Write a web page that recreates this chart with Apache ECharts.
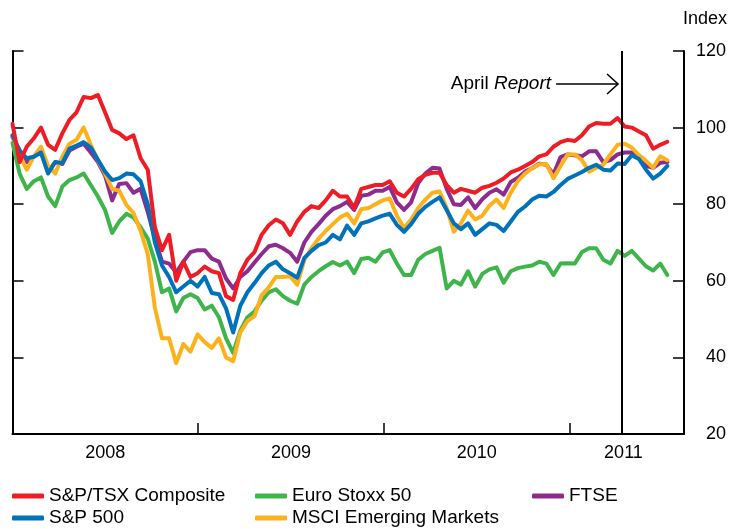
<!DOCTYPE html>
<html>
<head>
<meta charset="utf-8">
<script src="https://cdn.jsdelivr.net/npm/echarts@6/dist/echarts.min.js"></script>
<style>
html,body{margin:0;padding:0;background:#fff;}
#chart{width:729px;height:529px;}
</style>
</head>
<body>
<div id="chart"></div>
<script>
// x positions: decimal years, one reading every two weeks from 1 Jan 2008
const startYear = 2008;
const stepDays = 14;
const nPoints = 93;
const dates = Array.from({length: nPoints}, (_, i) => startYear + i * stepDays / 365.25);

const seriesNames = ['S&P/TSX Composite', 'Euro Stoxx 50', 'FTSE', 'S&P 500', 'MSCI Emerging Markets'];

const tsx = [
  101, 91, 95, 97.2, 100, 95.5, 94.2, 98.5, 102, 104,
  108, 107.7, 108.5, 104, 99.4, 98.5, 97, 98, 92, 89,
  74, 68, 72, 60, 65, 61, 62, 63.7, 62.5, 62,
  56, 55, 62, 65.5, 67.5, 72, 74.5, 76, 75, 72,
  75.5, 78, 79.5, 79, 81, 83.5, 82, 82, 79, 84,
  84.5, 85, 85, 86, 83, 82, 84, 86.5, 87.7, 88.2,
  88.2, 85, 83, 84, 83.5, 83, 84.3, 84.8, 85.6, 86.7,
  88.3, 89, 90, 91, 92.5, 93, 95, 96.2, 96.8, 96.5,
  98, 100.3, 101.2, 101, 101, 102.5, 100.3, 100, 99, 98,
  94.5, 95.5, 96.3
];

const sp500 = [
  98, 94, 92, 92.4, 93.5, 88, 91, 90.7, 94.5, 95.3,
  96.2, 94.8, 91.6, 88.5, 86.3, 86.8, 88, 87.8, 86, 80,
  70, 64, 61, 57, 58.5, 60, 58.5, 61, 56.8, 56.5,
  52.8, 46.5, 53.5, 57, 59.4, 62, 64, 65, 63, 62,
  60.8, 66, 67.8, 69.3, 70, 72, 70.8, 74.4, 72, 75,
  75.5, 76.3, 77, 77.5, 74.6, 72.8, 74.8, 77.5, 79.3, 80.6,
  81.8, 78.5, 75, 73.5, 75, 72, 73.5, 75, 74.6, 73,
  75.5, 78, 79.4, 81.2, 82.2, 82, 83.2, 85, 86.6, 87.5,
  88.4, 89.5, 90.3, 89, 88.8, 90.6, 90.5, 92.8, 91.8, 89,
  86.7, 88, 90
];

const stoxx = [
  96, 88, 84, 86, 87, 82, 79.5, 84.6, 86.3, 87,
  88, 85, 82, 78.5, 72.5, 75.5, 77.5, 76.5, 74, 71,
  65, 57, 58, 52, 55.5, 56.5, 55.5, 52.5, 53.5, 50.5,
  45, 41.2, 47, 50.5, 52, 54.8, 57, 57.8, 56, 54.8,
  54, 59, 61, 62.5, 63.8, 64.9, 64, 65, 62, 65.7,
  66, 65, 67.4, 68, 64.5, 61.5, 61.5, 65.5, 67, 67.8,
  68.6, 58, 60, 59, 62.5, 58.5, 61.8, 63, 63.5, 59.5,
  62.5, 63.3, 63.7, 64, 65, 64.5, 61.5, 64.5, 64.6, 64.5,
  67.5, 68.5, 68.5, 65.5, 64.5, 67.8, 66.5, 67.8, 65.8, 63.8,
  62.7, 64.5, 61.5
];

const msci = [
  98, 93, 89, 92.5, 95, 90, 88, 92.4, 95.8, 96.8,
  100, 95.5, 91.5, 88, 84, 83.5, 79.8, 77.7, 73, 67,
  53, 45, 45, 38.5, 43.5, 41.5, 46, 44, 42.5, 45,
  40, 39, 46.5, 49.5, 50.8, 56.2, 58.3, 61, 61, 61.2,
  59, 65.5, 68.5, 71, 73, 74.8, 76.5, 77.5, 75, 78.7,
  79, 80, 81, 81.5, 77, 73.8, 76, 79, 81.2, 83,
  83.3, 79, 72.8, 75, 78.3, 76, 77, 79.6, 81.2, 79,
  83, 86, 88, 89.4, 90.4, 90.5, 86.8, 90, 93, 93,
  91.5, 88.5, 89.5, 90.3, 93, 95.5, 95.8, 94.8, 92.8, 91.3,
  89.5, 92.5, 91.5
];

const ftse = [
  97.5, 94, 91, 92.5, 93.5, 88.5, 91, 90.5, 94, 95,
  95.8, 93.5, 91, 87.5, 81, 85.3, 85.5, 83, 84, 78,
  71, 65, 64.5, 62.2, 65, 67.5, 68, 68, 65.8, 65,
  60.6, 58, 61, 62.5, 64.8, 67, 69, 69.4, 68.5, 67.3,
  65, 70, 72.8, 74.8, 77, 78.7, 79.5, 80.6, 78.5, 82.2,
  82.5, 83.5, 83.5, 84.5, 80.5, 78.5, 80.5, 85.5, 88, 89.5,
  89.3, 84, 80, 79.8, 81.8, 79, 81.3, 83, 83.9, 82.5,
  85.8, 86.9, 88.5, 89.4, 90.6, 90.3, 87.8, 92.3, 93, 92.8,
  92.5, 93.8, 93.8, 91, 91.5, 93, 93.5, 93.5, 92, 90,
  89.5, 90.8, 91
];

const yTicks = [20, 40, 60, 80, 100, 120];
const yearLabels = ['2008', '2009', '2010', '2011'];
const yearLabelPos = [2008.5, 2009.5, 2010.5, 2011.29];
const yearTicks = [2009, 2010, 2011];
const reportDate = 2011.277;   // April 2011 Monetary Policy Report
const xMax = 2011.616;

const FONT = '"Liberation Sans", Arial, Helvetica, sans-serif';
const colors = {
  'S&P/TSX Composite': '#EE1D25',
  'Euro Stoxx 50': '#3DB54A',
  'FTSE': '#8E2B8F',
  'S&P 500': '#0072BC',
  'MSCI Emerging Markets': '#FDB11B'
};

function mk(name, vals, extra) {
  return Object.assign({
    name: name,
    type: 'line',
    data: dates.map((d, i) => [d, vals[i]]),
    showSymbol: false,
    symbol: 'none',
    smooth: false,
    lineStyle: {width: 4, color: colors[name], join: 'round', cap: 'round'},
    itemStyle: {color: colors[name]},
    animation: false
  }, extra || {});
}

const chart = echarts.init(document.getElementById('chart'), null, {renderer: 'canvas'});

const legendBase = {
  orient: 'vertical',
  icon: 'roundRect',
  itemWidth: 32,
  itemHeight: 5,
  itemGap: 3,
  selectedMode: false,
  padding: 0,
  textStyle: {fontSize: 19, fontFamily: FONT, color: '#000', lineHeight: 19}
};

const axisTxt = {fontSize: 18, fontFamily: FONT, color: '#000'};

chart.setOption({
  animation: false,
  textStyle: {fontFamily: FONT},
  grid: {left: 12.5, right: 44, top: 51, bottom: 95, containLabel: false},
  legend: [
    Object.assign({}, legendBase, {left: 12, top: 486.5, data: ['S&P/TSX Composite', 'S&P 500']}),
    Object.assign({}, legendBase, {left: 255, top: 486.5, data: ['Euro Stoxx 50', 'MSCI Emerging Markets']}),
    Object.assign({}, legendBase, {left: 532, top: 486.5, data: ['FTSE']})
  ],
  xAxis: {
    type: 'value',
    min: startYear,
    max: xMax,
    axisLine: {show: true, onZero: false, lineStyle: {color: '#000', width: 2}},
    axisTick: {show: true, inside: true, length: 11, customValues: yearTicks, lineStyle: {color: '#000', width: 1.5}},
    axisLabel: Object.assign({show: true, margin: 10, customValues: yearLabelPos,
      formatter: function (v) { return yearLabels[yearLabelPos.indexOf(v)] || ''; }}, axisTxt),
    splitLine: {show: false}
  },
  yAxis: [
    {
      type: 'value', position: 'right', min: 20, max: 120, interval: 20,
      axisLine: {show: true, lineStyle: {color: '#000', width: 2}},
      axisTick: {show: true, inside: true, length: 11, lineStyle: {color: '#000', width: 1.5}},
      axisLabel: Object.assign({show: true, align: 'right', margin: 42}, axisTxt),
      splitLine: {show: false}
    },
    {
      type: 'value', position: 'left', min: 20, max: 120, interval: 20,
      axisLine: {show: true, lineStyle: {color: '#000', width: 2}},
      axisTick: {show: true, inside: true, length: 11, lineStyle: {color: '#000', width: 1.5}},
      axisLabel: {show: false},
      splitLine: {show: false}
    }
  ],
  series: [
    mk('Euro Stoxx 50', stoxx),
    mk('FTSE', ftse),
    mk('MSCI Emerging Markets', msci),
    mk('S&P 500', sp500),
    mk('S&P/TSX Composite', tsx, {
      markLine: {
        silent: true, symbol: 'none', animation: false,
        label: {show: false},
        lineStyle: {color: '#000', width: 2, type: 'solid'},
        data: [{xAxis: reportDate}]
      }
    })
  ]
});

// Annotation: "April Report" with arrow pointing at the report line
const arrowLevel = 111.4;
const tip = chart.convertToPixel({xAxisIndex: 0, yAxisIndex: 0}, [reportDate, arrowLevel]);
const tx = tip[0] - 3, ty = tip[1];
chart.setOption({
  graphic: [
    {type: 'line', silent: true, shape: {x1: tx - 62, y1: ty, x2: tx, y2: ty},
      style: {stroke: '#000', lineWidth: 1.5}},
    {type: 'polyline', silent: true, shape: {points: [[tx - 11, ty - 10], [tx, ty], [tx - 11, ty + 10]]},
      style: {stroke: '#000', lineWidth: 1.5, fill: null}},
    {type: 'text', silent: true,
      style: {x: tx - 67, y: ty, align: 'right', verticalAlign: 'middle',
        text: '{a|April }{b|Report}',
        rich: {
          a: {fontSize: 19, fontFamily: FONT, fill: '#000'},
          b: {fontSize: 19, fontFamily: FONT, fontStyle: 'italic', fill: '#000'}
        }}},
    {type: 'text', silent: true,
      style: {x: 727, y: 19, align: 'right', verticalAlign: 'middle', text: 'Index',
        fontSize: 18, fontFamily: FONT, fill: '#000'}}
  ]
});
</script>
</body>
</html>
